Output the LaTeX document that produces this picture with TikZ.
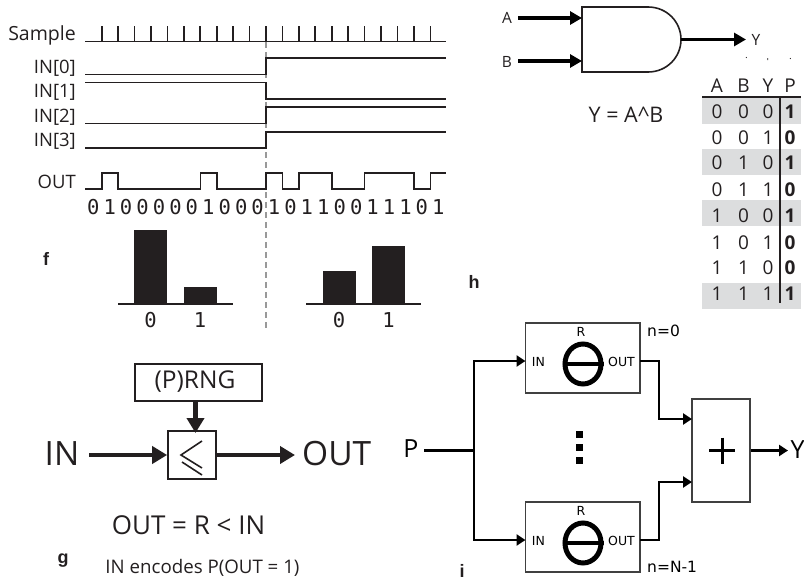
\documentclass[tikz,border=0pt]{standalone}
\usepackage{fontspec}
\setmainfont{Open Sans}
\newfontfamily\monof{DejaVu Sans Mono}
\newfontfamily\dvs{DejaVu Sans}
\newfontfamily\helv{Liberation Sans}
\usetikzlibrary{arrows.meta,shapes.geometric}
\definecolor{ink}{HTML}{231F20}
\definecolor{rowgray}{HTML}{DCDDDE}
\newcommand{\fsz}[1]{\fontsize{#1}{#1}\selectfont}
\tikzset{
  wave/.style={draw=ink,line width=1.6pt,line join=miter},
  lab/.style={text=ink,inner sep=0pt,font=\fsz{18.5}},
  sig/.style={lab,anchor=east},
  bitlab/.style={text=ink,inner sep=0pt,font=\monof\fsz{20.5}},
  panel/.style={text=ink,inner sep=0pt,font=\helv\bfseries\fsz{18}},
  bar/.style={fill=ink,draw=none},
  gbox/.style={draw=ink,line width=1.7pt,inner sep=0pt,fill=white},
  gflow/.style={draw=ink,line width=4.4pt,-{Triangle[length=15pt,width=17pt]}},
  aflow/.style={draw=black,line width=3.8pt,-{Triangle[length=12pt,width=13pt]}},
  iflow/.style={draw=black,line width=2.3pt,-{Triangle[length=9pt,width=11pt]}},
  iline/.style={draw=black,line width=2.3pt},
  ibox/.style={draw=black!75,line width=1.2pt,inner sep=0pt},
  ilab/.style={inner sep=0pt,text=black,font=\dvs\fsz{12.5}},
  nlab/.style={inner sep=0pt,anchor=west,text=black,font=\dvs\fsz{15.5}},
  theta/.style={ellipse,draw=black,line width=5pt,minimum width=36pt,minimum height=40pt,inner sep=0pt},
  tcell/.style={lab,font=\fsz{19}},
  pcell/.style={lab,font=\bfseries\fsz{19}},
}
\begin{document}
\begin{tikzpicture}[x=1pt,y=-1pt]
\useasboundingbox (0,0) rectangle (804,581);
% f: dashed separator
\draw[draw=black!40,line width=2pt,dash pattern=on 6pt off 4pt] (265.7,42) -- (265.7,328);
% waveforms
\node[sig,font=\fsz{19.5}] (lsample) at (76,35) {Sample};
\draw[wave] (85,41.5) -- (446,41.5);
\foreach \k in {0,...,20} \draw[wave] ({101.7+16.43*\k},41.5) -- ++(0,-16);
\node[sig] (lin0) at (76,68) {IN[0]};
\draw[wave] (85,74.5) -- (265.7,74.5) -- (265.7,58) -- (446,58);
\node[sig] (lin1) at (76,92) {IN[1]};
\draw[wave] (85,82.5) -- (265.7,82.5) -- (265.7,99) -- (446,99);
\node[sig] (lin2) at (76,117) {IN[2]};
\draw[wave] (85,123.5) -- (265.7,123.5) -- (265.7,107) -- (446,107);
\node[sig] (lin3) at (76,141) {IN[3]};
\draw[wave] (85,148) -- (265.7,148) -- (265.7,132) -- (446,132);
\node[sig] (lout) at (76,182) {OUT};
\draw[wave] (85,189)
  -- (101.7,189) -- (101.7,173) -- (118.1,173) -- (118.1,189)
  -- (200.3,189) -- (200.3,173) -- (216.7,173) -- (216.7,189)
  -- (265.7,189) -- (265.7,173) -- (282.4,173) -- (282.4,189)
  -- (298.8,189) -- (298.8,173) -- (331.7,173) -- (331.7,189)
  -- (364.6,189) -- (364.6,173) -- (413.8,173) -- (413.8,189)
  -- (430.3,189) -- (430.3,173) -- (446,173);
\foreach \b [count=\i from 0] in {0,1,0,0,0,0,0,1,0,0,0,1,0,1,1,0,0,1,1,1,0,1}
  \node[bitlab] (bit\i) at ({93.3+16.43*\i},207) {\b};
% histograms
\fill[bar] (134,230) rectangle (167,304);
\fill[bar] (184,287) rectangle (217,304);
\draw[wave] (118,304) -- (233,304);
\fill[bar] (323,271) rectangle (356,304);
\fill[bar] (372,246) rectangle (405,304);
\draw[wave] (306,304) -- (421,304);
\node[bitlab] (h0) at (150.5,320) {0};
\node[bitlab] (h1) at (200,320) {1};
\node[bitlab] (h2) at (339,320) {0};
\node[bitlab] (h3) at (388.5,320) {1};
\node[panel] (pf) at (46,259) {f};
% g
\node[gbox,minimum width=127pt,minimum height=37pt] (prng) at (198.5,382.5) {};
\node[lab,font=\fsz{24.5}] (prngt) at (195,382) {(P)RNG};
\node[gbox,minimum width=48pt,minimum height=48pt] (cmp) at (192,455) {};
\draw[draw=ink,line width=1.6pt] (202,441) -- (181,455) -- (202,468) (182,462) -- (202,475);
\coordinate (prngout) at (195.5,401);
\coordinate (cmptop) at (195.5,433);
\draw[gflow] (prngout) -- (cmptop);
\node[lab,font=\fsz{33.5}] (gin) at (62,454) {IN};
\node[lab,font=\fsz{33.5},anchor=west] (gout) at (302,454) {OUT};
\coordinate (ginstart) at (89,455);
\coordinate (goutend) at (295,455);
\draw[gflow] (ginstart) -- (cmp.west);
\draw[gflow] (cmp.east) -- (goutend);
\node[lab,font=\fsz{26}] (geq) at (188.5,525) {OUT = R < IN};
\node[lab,font=\fsz{18.7}] (genc) at (202.5,568) {IN encodes P(OUT = 1)};
\node[panel] (pg) at (63,561) {g};
% h: gate
\node[lab,font=\fsz{15.5}] (ga) at (507,18) {A};
\node[lab,font=\fsz{15.5}] (gb) at (507,62) {B};
\node[lab,font=\fsz{15.5}] (gy) at (756,39.5) {Y};
\draw[draw=ink,line width=1.6pt] (582,7) -- (648,7) .. controls (667,7) and (681,22) .. (681,39.5) .. controls (681,57) and (667,72) .. (648,72) -- (582,72) -- cycle;
\coordinate (astart) at (518,18);
\coordinate (aend) at (582,18);
\coordinate (bstart) at (518,61);
\coordinate (bend) at (582,61);
\coordinate (ystart) at (681,39.5);
\coordinate (yend) at (746,39.5);
\draw[aflow] (astart) -- (aend);
\draw[aflow] (bstart) -- (bend);
\draw[aflow] (ystart) -- (yend);
\draw[draw=ink,line width=.7pt] (746,57) -- (746.7,58) (767.7,58) -- (767.7,60) (790.7,58) -- (790,59);
\node[lab,font=\fsz{21.5}] (yeq) at (626,115) {Y = A\textasciicircum B};
% h: table
\foreach \yy in {98,148.5,200,283} \fill[rowgray] (702,\yy) rectangle (801,{\yy+26});
\foreach \t/\x in {A/717,B/743.5,Y/768,P/790}
  \node[tcell] (head\t) at (\x,86) {\t};
\foreach \a/\b/\c/\p/\y [count=\r] in {0/0/0/1/112,0/0/1/0/138,0/1/0/1/163,0/1/1/0/190,1/0/0/1/216,1/0/1/0/243,1/1/0/0/268,1/1/1/1/294}{
  \node[tcell] (ra\r) at (717,\y) {\a};
  \node[tcell] (rb\r) at (743.5,\y) {\b};
  \node[tcell] (rc\r) at (768,\y) {\c};
  \node[pcell] (rp\r) at (790,\y) {\p};
}
\draw[draw=ink,line width=1.2pt] (702,97) -- (801,97);
\draw[draw=ink,line width=1.1pt] (780,97) -- (780,303);
\node[panel] (ph) at (474,282) {h};
% i
\node[ibox,minimum width=114.5pt,minimum height=70pt] (b1) at (582.75,358) {};
\node[ibox,minimum width=114.5pt,minimum height=70pt] (b2) at (582.75,537) {};
\node[ibox,minimum width=58pt,minimum height=103pt] (plus) at (721,450.5) {};
\node[theta] (t1) at (583,364) {};
\node[theta] (t2) at (583,543) {};
\draw[draw=black,line width=3.6pt] (t1.west) -- (t1.east);
\draw[draw=black,line width=3.6pt] (t2.west) -- (t2.east);
\foreach \bx/\dy in {1/358,2/537}{
  \node[ilab] (iin\bx) at (538.5,{\dy+4}) {IN};
  \node[ilab] (iout\bx) at (621.5,{\dy+4}) {OUT};
  \node[ilab] (ir\bx) at (581,{\dy-26}) {R};
}
\node[nlab] (n0) at (647,331) {n=0};
\node[nlab] (n1) at (647,566.5) {n=N-1};
\foreach \yy in {434,447,460} \fill[black] (576,{\yy-3.5}) rectangle (583,{\yy+3.5});
\draw[draw=black,line width=3pt] (709,450.7) -- (735,450.7) (722,437.7) -- (722,463.7);
\node[lab,font=\fsz{25},text=black] (p) at (411,449) {P};
\node[lab,font=\fsz{25},text=black,anchor=west] (yo) at (790.5,450) {Y};
\coordinate (pstart) at (424,450.5);
\coordinate (fork) at (474,450.5);
\coordinate (b1in) at (525.5,361);
\coordinate (b2in) at (525.5,540);
\coordinate (b1out) at (640,361);
\coordinate (b2out) at (640,540);
\coordinate (p1) at (692,419);
\coordinate (p2) at (692,482);
\draw[iline] (pstart) -- (fork);
\draw[iflow] (fork) |- (b1in);
\draw[iflow] (fork) |- (b2in);
\draw[iflow] (b1out) -- (659,361) |- (p1);
\draw[iflow] (b2out) -- (659,540) |- (p2);
\coordinate (yoend) at (788,450.5);
\draw[iflow] (plus.east) -- (yoend);
\node[panel] (pi) at (462,571) {i};
\end{tikzpicture}
\end{document}
